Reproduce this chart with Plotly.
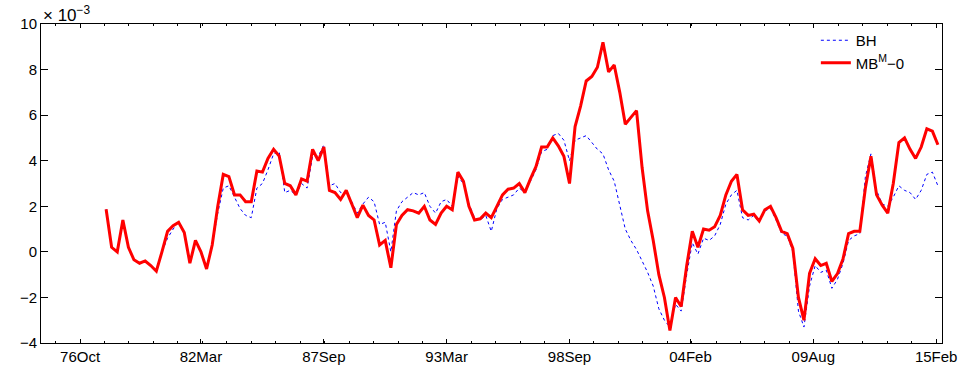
import plotly.graph_objects as go
import pandas as pd

# quarterly observations, values in units of 1e-3
start_date = "1977-12-01"
step = "3MS"

mb_m0 = [1.87, 0.2, 0.0, 1.4, 0.2, -0.35, -0.5, -0.4, -0.6, -0.85,
         0.0, 0.9, 1.15, 1.3, 0.85, -0.5, 0.5, 0.0, -0.75, 0.3,
         2.0, 3.4, 3.3, 2.5, 2.5, 2.2, 2.2, 3.55, 3.5, 4.1,
         4.5, 4.2, 3.0, 2.9, 2.5, 3.2, 3.1, 4.5, 4.0, 4.6,
         2.7, 2.6, 2.3, 2.7, 2.1, 1.5, 2.05, 1.6, 1.4, 0.3,
         0.5, -0.7, 1.2, 1.6, 1.85, 1.8, 1.7, 2.0, 1.4, 1.2,
         1.7, 2.0, 1.85, 3.5, 3.1, 2.0, 1.4, 1.45, 1.7, 1.5,
         2.0, 2.5, 2.75, 2.8, 3.0, 2.6, 3.2, 3.74, 4.6, 4.6,
         5.0, 4.65, 4.2, 3.0, 5.5, 6.4, 7.5, 7.7, 8.1, 9.2,
         7.9, 8.2, 7.0, 5.6, 5.9, 6.2, 3.7, 1.8, 0.5, -1.0,
         -2.0, -3.45, -2.0, -2.4, -0.6, 0.9, 0.2, 1.0, 0.95, 1.1,
         1.6, 2.5, 3.1, 3.4, 1.85, 1.6, 1.65, 1.35, 1.85, 2.0,
         1.5, 0.9, 0.8, 0.15, -2.0, -3.0, -0.94, -0.3, -0.6, -0.5,
         -1.3, -0.95, -0.3, 0.8, 0.9, 0.9, 2.8, 4.2, 2.5, 2.05,
         1.7, 3.0, 4.8, 5.0, 4.5, 4.1, 4.6, 5.4, 5.3, 4.7]

bh = [1.87, 0.2, 0.0, 1.4, 0.2, -0.35, -0.5, -0.4, -0.6, -0.85,
      0.0, 0.6, 1.0, 1.3, 0.85, -0.5, 0.5, 0.0, -0.75, 0.3,
      1.7, 2.8, 2.9, 2.4, 1.9, 1.6, 1.5, 2.8, 3.0, 3.6,
      4.3, 4.4, 2.6, 2.7, 2.5, 3.0, 2.8, 4.2, 4.2, 4.7,
      2.9, 3.0, 2.6, 2.6, 2.2, 1.7, 2.1, 2.4, 2.2, 1.2,
      1.3, 0.0, 1.8, 2.2, 2.4, 2.6, 2.5, 2.6, 2.0, 1.7,
      2.2, 2.3, 2.0, 3.3, 3.0, 2.1, 1.5, 1.4, 1.6, 0.9,
      1.9, 2.3, 2.4, 2.5, 2.8, 2.6, 3.1, 3.6, 4.4, 4.5,
      5.1, 5.2, 4.9, 4.0, 4.9, 5.0, 5.1, 4.8, 4.5, 4.3,
      3.6, 3.1, 2.1, 1.0, 0.5, 0.1, -0.4, -0.9, -1.5, -2.5,
      -3.0, -3.3, -2.3, -2.6, -1.0, 0.4, -0.1, 0.6, 0.5, 0.7,
      1.2, 2.1, 2.5, 2.7, 1.5, 1.4, 1.6, 1.3, 1.8, 1.9,
      1.4, 0.8, 0.7, 0.0, -2.6, -3.3, -1.5, -0.6, -0.9, -0.8,
      -1.6, -1.2, -0.5, 0.5, 0.7, 0.8, 3.3, 4.3, 2.7, 2.1,
      2.0, 2.4, 2.9, 2.7, 2.6, 2.3, 2.7, 3.4, 3.5, 2.9]

tick_dates = ["1976-10-01", "1982-03-01", "1987-09-01", "1993-03-01",
              "1998-09-01", "2004-02-01", "2009-08-01", "2015-02-01"]
tick_labels = ["76Oct", "82Mar", "87Sep", "93Mar",
               "98Sep", "04Feb", "09Aug", "15Feb"]
y_ticks = [-4, -2, 0, 2, 4, 6, 8, 10]

dates = pd.date_range(start_date, periods=len(mb_m0), freq=step)

font = dict(family="Liberation Sans, Arial, sans-serif", size=15, color="black")

fig = go.Figure()
fig.add_trace(go.Scatter(x=dates, y=bh, mode="lines", name="BH",
                         line=dict(color="#0000ff", width=1, dash="dot")))
fig.add_trace(go.Scatter(x=dates, y=mb_m0, mode="lines", name="MB<sup>M</sup>\u22120",
                         line=dict(color="#ff0000", width=3)))

minor_ms = (pd.Timestamp(tick_dates[-1]) - pd.Timestamp(tick_dates[0])).total_seconds() * 1000 / 35

fig.update_layout(
    width=971, height=368,
    margin=dict(l=41, r=29, t=24, b=25),
    paper_bgcolor="white", plot_bgcolor="white",
    font=font,
    showlegend=True,
    legend=dict(x=0.86, y=1.0, xanchor="left", yanchor="top",
                bgcolor="rgba(255,255,255,0)", font=font,
                tracegroupgap=0, itemwidth=30),
    xaxis=dict(type="date", range=["1975-01-01", "2015-05-07"],
               tickmode="array", tickvals=tick_dates, ticktext=tick_labels,
               ticks="inside", ticklen=4, tickcolor="black",
               minor=dict(ticks="inside", ticklen=2, tickcolor="black",
                          tick0=tick_dates[0], dtick=minor_ms),
               showline=True, linecolor="black", linewidth=1, mirror="ticks",
               showgrid=False, zeroline=False, tickfont=font, automargin=False),
    yaxis=dict(range=[-4, 10], tickmode="array", tickvals=y_ticks,
               ticks="inside", ticklen=7, tickcolor="black",
               showline=True, linecolor="black", linewidth=1, mirror="ticks",
               showgrid=False, zeroline=False, tickfont=font, automargin=False),
)

fig.add_annotation(text="\u00d7 10<sup>\u22123</sup>", xref="paper", yref="paper",
                   x=0, y=1, xanchor="left", yanchor="bottom", showarrow=False,
                   font=dict(family=font["family"], size=17, color="black"), yshift=-3)

fig.write_html("out.html", config={"displayModeBar": False},
               post_script="document.body.style.margin='0';")
